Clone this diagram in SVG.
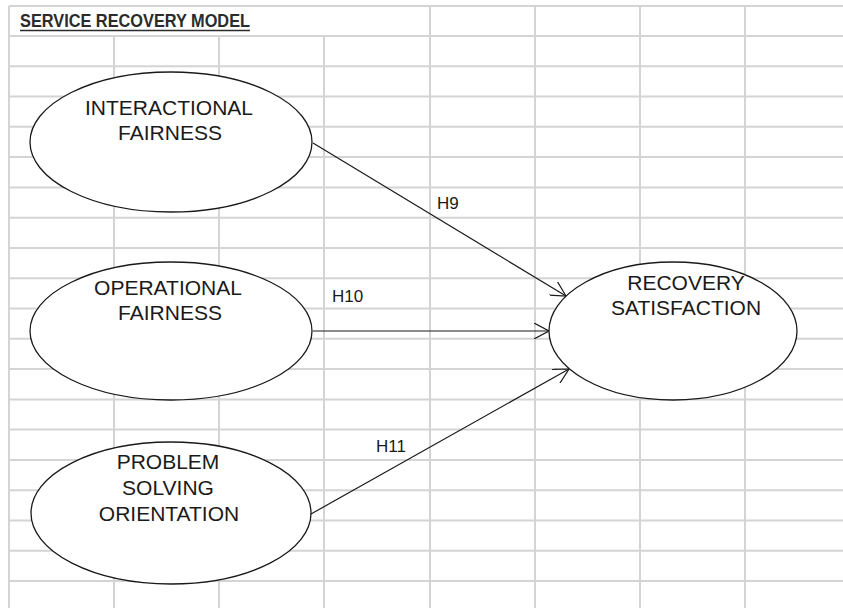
<svg xmlns="http://www.w3.org/2000/svg" width="843" height="608" viewBox="0 0 843 608">
  <style>
    .grid line { stroke: #d4d4d4; stroke-width: 2; }
    .node ellipse { fill: #ffffff; stroke: #1a1a1a; stroke-width: 1.3; }
    .node text { font-family: "Liberation Sans", Arial, sans-serif; font-size: 21px; fill: #1a1a1a; text-anchor: middle; }
    .edge { stroke: #1a1a1a; stroke-width: 1.2; fill: none; marker-end: url(#arrow); }
    .lbl { font-family: "Liberation Sans", Arial, sans-serif; font-size: 17px; fill: #1a1a1a; }
    .title { font-family: "Liberation Sans Narrow", "Liberation Sans", Arial, sans-serif; font-weight: bold; font-size: 19px; fill: #2b2b2b; }
  </style>
  <defs>
    <marker id="arrow" viewBox="0 0 15 16" refX="15" refY="8" markerWidth="15" markerHeight="16" markerUnits="userSpaceOnUse" orient="auto">
      <path d="M0,0 L15,8 L0,16" fill="none" stroke="#1a1a1a" stroke-width="1.2"/>
    </marker>
  </defs>

  <rect x="0" y="0" width="843" height="608" fill="#ffffff"/>

  <!-- spreadsheet grid -->
  <g class="grid">
    <line x1="9" y1="6" x2="843" y2="6"/>
    <line x1="9" y1="36" x2="843" y2="36"/>
    <line x1="9" y1="66.3" x2="843" y2="66.3"/>
    <line x1="9" y1="96.6" x2="843" y2="96.6"/>
    <line x1="9" y1="126.8" x2="843" y2="126.8"/>
    <line x1="9" y1="157.1" x2="843" y2="157.1"/>
    <line x1="9" y1="187.4" x2="843" y2="187.4"/>
    <line x1="9" y1="217.7" x2="843" y2="217.7"/>
    <line x1="9" y1="248" x2="843" y2="248"/>
    <line x1="9" y1="278.2" x2="843" y2="278.2"/>
    <line x1="9" y1="308.5" x2="843" y2="308.5"/>
    <line x1="9" y1="338.8" x2="843" y2="338.8"/>
    <line x1="9" y1="369.1" x2="843" y2="369.1"/>
    <line x1="9" y1="399.4" x2="843" y2="399.4"/>
    <line x1="9" y1="429.6" x2="843" y2="429.6"/>
    <line x1="9" y1="459.9" x2="843" y2="459.9"/>
    <line x1="9" y1="490.2" x2="843" y2="490.2"/>
    <line x1="9" y1="520.5" x2="843" y2="520.5"/>
    <line x1="9" y1="550.8" x2="843" y2="550.8"/>
    <line x1="9" y1="581" x2="843" y2="581"/>
    <line x1="9" y1="6" x2="9" y2="608"/>
    <line x1="114" y1="36" x2="114" y2="608"/>
    <line x1="219" y1="36" x2="219" y2="608"/>
    <line x1="324" y1="36" x2="324" y2="608"/>
    <line x1="430" y1="6" x2="430" y2="608"/>
    <line x1="535" y1="6" x2="535" y2="608"/>
    <line x1="640" y1="6" x2="640" y2="608"/>
    <line x1="745" y1="6" x2="745" y2="608"/>
  </g>

  <!-- heading -->
  <g id="heading">
    <text class="title" x="20" y="27" textLength="230" lengthAdjust="spacingAndGlyphs">SERVICE RECOVERY MODEL</text>
    <line x1="20" y1="30.5" x2="250" y2="30.5" stroke="#2b2b2b" stroke-width="1.4"/>
  </g>

  <!-- constructs -->
  <g id="interactional-fairness" class="node">
    <ellipse cx="171" cy="142" rx="141" ry="70"/>
    <text x="169" y="115">INTERACTIONAL</text>
    <text x="170" y="140">FAIRNESS</text>
  </g>
  <g id="operational-fairness" class="node">
    <ellipse cx="171" cy="331" rx="141" ry="69"/>
    <text x="168" y="295">OPERATIONAL</text>
    <text x="170" y="320">FAIRNESS</text>
  </g>
  <g id="problem-solving-orientation" class="node">
    <ellipse cx="171" cy="513" rx="140" ry="71"/>
    <text x="168" y="469">PROBLEM</text>
    <text x="168" y="495">SOLVING</text>
    <text x="169" y="521">ORIENTATION</text>
  </g>
  <g id="recovery-satisfaction" class="node">
    <ellipse cx="673" cy="331" rx="124" ry="69"/>
    <text x="686" y="290">RECOVERY</text>
    <text x="686" y="315">SATISFACTION</text>
  </g>

  <!-- hypothesised paths -->
  <g id="connectors">
    <line class="edge" x1="313" y1="143" x2="566" y2="296"/>
    <line class="edge" x1="313" y1="331" x2="549" y2="331"/>
    <line class="edge" x1="311" y1="514" x2="569" y2="369"/>
    <text class="lbl" x="437" y="209">H9</text>
    <text class="lbl" x="332" y="302">H10</text>
    <text class="lbl" x="376" y="452">H11</text>
  </g>
</svg>
